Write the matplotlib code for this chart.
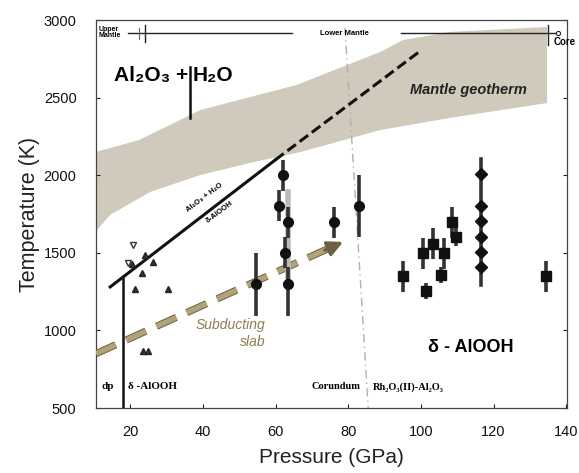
import matplotlib
matplotlib.use("Agg")
import matplotlib.pyplot as plt
import numpy as np

plt.rcParams['font.family'] = ['Liberation Sans', 'DejaVu Sans']

# ---------------- data ----------------
# Mantle geotherm band
geo_upper_P = [10.6, 22.5, 39.3, 65.7, 88.8, 95.1, 108.0, 134.7]
geo_upper_T = [2150, 2227, 2420, 2581, 2794, 2871, 2923, 2955]
geo_lower_P = [10.6, 14.5, 25.5, 39.3, 53.0, 66.8, 88.8, 108.0, 134.7]
geo_lower_T = [1640, 1744, 1892, 2001, 2079, 2149, 2291, 2369, 2465]

# Al2O3 + H2O = delta-AlOOH boundary
bound_solid_P = [14.5, 59.9]
bound_solid_T = [1280, 2098]
bound_dash_P = [59.9, 99.8]
bound_dash_T = [2098, 2800]

# subducting slab
slab_P = [10.6, 78.6]
slab_T = [850, 1570]

# low-pressure triangle points
tri_P = [23.3, 24.1, 26.3, 21.4, 30.5, 23.6, 25.0, 20.6]
tri_T = [1370, 1486, 1440, 1267, 1267, 867, 867, 1430]
open_tri_P = [20.8, 19.4]
open_tri_T = [1550, 1434]

# circles with error bars (mid pressure)
circ_P = [54.7, 61.0, 62.0, 63.5, 62.5, 63.5, 76.0, 83.0]
circ_T = [1300, 1802, 2000, 1698, 1500, 1300, 1698, 1802]
circ_lo = [207, 100, 100, 100, 100, 207, 100, 200]
circ_hi = [200, 100, 100, 100, 100, 108, 100, 200]

# squares with error bars (high pressure)
sq_P = [95.1, 100.6, 101.4, 103.4, 106.4, 105.6, 108.6, 109.7, 134.4]
sq_T = [1350, 1498, 1254, 1557, 1498, 1357, 1698, 1602, 1350]
sq_err = [100, 100, 50, 100, 100, 50, 100, 60, 100]

# column of diamonds at ~117 GPa
col_P = [116.6, 116.6, 116.6, 116.6, 116.6, 116.6]
col_T = [2008, 1802, 1705, 1602, 1505, 1408]
col_bar_T = [1292, 2104]

# phase transition lines
dp_P = 18.1
dp_T = [500, 1338]
cor_P = [79.1, 85.5]
cor_T = [2950, 500]
bar36_P = 36.5
bar36_T = [2370, 2700]

xticks = [20, 40, 60, 80, 100, 120, 140]
yticks = [500, 1000, 1500, 2000, 2500, 3000]

# ---------------- figure ----------------
fig = plt.figure(figsize=(5.79, 4.73), dpi=100)
ax = fig.add_axes([96/579, 65/473, 471/579, 388/473])
ax.set_xlim(10.6, 140.2)
ax.set_ylim(500, 3000)

# geotherm band
poly_P = list(geo_upper_P) + list(geo_lower_P[::-1])
poly_T = list(geo_upper_T) + list(geo_lower_T[::-1])
ax.fill(poly_P, poly_T, color='#d0cabd', lw=0, zorder=1)

# boundary line
ax.plot(bound_solid_P, bound_solid_T, color='#111111', lw=2.2, zorder=4)
ax.plot(bound_dash_P, bound_dash_T, color='#111111', lw=2.2, ls=(0, (3.5, 1.5)), zorder=4)

# corundum transition (dash-dot gray)
ax.plot(cor_P, cor_T, color='#b0b0b0', lw=1.0, ls=(0, (6, 3, 1, 3)), zorder=2)

# dp boundary
ax.plot([dp_P, dp_P], dp_T, color='#111111', lw=1.8, zorder=4)
ax.plot([bar36_P, bar36_P], bar36_T, color='#111111', lw=1.8, zorder=4)

# subducting slab arrow
slab_col = '#b0a378'
ax.plot([slab_P[0], slab_P[1] - 4], [slab_T[0], slab_T[1] - 42], color='#6b6142', lw=5.2,
        ls=(0, (3.0, 1.6)), zorder=3, dash_capstyle='butt')
ax.plot([slab_P[0], slab_P[1] - 4], [slab_T[0], slab_T[1] - 42], color=slab_col, lw=3.8,
        ls=(0, (4.1, 2.2)), zorder=3, dash_capstyle='butt')
ax.annotate('', xy=(slab_P[1], slab_T[1]), xytext=(slab_P[1] - 5, slab_T[1] - 53),
            arrowprops=dict(arrowstyle='-|>,head_length=0.9,head_width=0.45',
                            color='#6b6142', lw=2.5, shrinkA=0, shrinkB=0), zorder=5)

# triangles
ax.plot(tri_P, tri_T, ls='none', marker='^', ms=5, mfc='#333333', mec='#222222', zorder=5)
ax.plot(open_tri_P, open_tri_T, ls='none', marker='v', ms=5, mfc='white', mec='#333333', mew=1, zorder=5)

# light grey error bar near 63 GPa
ax.plot([63.5, 63.5], [1305, 1890], color='#bbbbbb', lw=4, zorder=3)

# circles
ax.errorbar(circ_P, circ_T, yerr=[circ_lo, circ_hi], fmt='o', ms=7, mfc='#111111', mec='#111111',
            ecolor='#333333', elinewidth=2.6, capsize=0, zorder=6)

# squares
ax.errorbar(sq_P, sq_T, yerr=sq_err, fmt='s', ms=7, mfc='#111111', mec='#111111',
            ecolor='#333333', elinewidth=2.6, capsize=0, zorder=6)

# diamond column
ax.plot([col_P[0], col_P[0]], col_bar_T, color='#333333', lw=2.6, zorder=5)
ax.plot(col_P, col_T, ls='none', marker='D', ms=6.5, mfc='#111111', mec='#111111', zorder=6)

# ---------------- texts ----------------
ax.text(15.6, 2645, 'Al₂O₃ +', fontsize=15, fontweight='bold', ha='left', va='center', zorder=7)
ax.text(37.3, 2645, 'H₂O', fontsize=15, fontweight='bold', ha='left', va='center', zorder=7)
ax.text(113, 2549, 'Mantle geotherm', fontsize=10.5, fontweight='bold', style='italic',
        ha='center', va='center', color='#222222', zorder=7)
ax.text(113.8, 893, 'δ - AlOOH', fontsize=13, fontweight='bold', ha='center', va='center', zorder=7)
ax.text(47.5, 1035, 'Subducting', fontsize=10, style='italic', color='#8a7d50', ha='center', va='center', zorder=7)
ax.text(53.8, 925, 'slab', fontsize=10, style='italic', color='#8a7d50', ha='center', va='center', zorder=7)

ang = 37
ax.text(40.5, 1855, 'Al₂O₃ + H₂O', fontsize=5.5, rotation=ang, rotation_mode='anchor',
        ha='center', va='center', fontweight='bold', zorder=7)
ax.text(44.5, 1765, 'δ-AlOOH', fontsize=5.5, rotation=ang, rotation_mode='anchor',
        ha='center', va='center', fontweight='bold', zorder=7)

serif = ['Liberation Serif', 'DejaVu Serif']
ax.text(12.2, 636, 'dp', fontsize=8, fontweight='bold', family=serif, ha='left', va='center', zorder=7)
ax.text(19.5, 636, 'δ -AlOOH', fontsize=8, fontweight='bold', family=serif, ha='left', va='center', zorder=7)
ax.text(70.0, 636, 'Corundum', fontsize=7.5, fontweight='bold', family=serif, ha='left', va='center', zorder=7)
ax.text(86.8, 636, 'Rh₂O₃(II)-Al₂O₃', fontsize=7.5, fontweight='bold', family=serif, ha='left', va='center', zorder=7)

# top mantle labels
ax.text(11.2, 2918, 'Upper\nMantle', fontsize=5, fontweight='bold', ha='left', va='center',
        linespacing=0.9, zorder=7)
ax.plot([19.5, 64.5], [2916, 2916], color='#222222', lw=1.0, zorder=6)
ax.plot([24.0, 24.0], [2860, 2970], color='#222222', lw=1.0, zorder=6)
ax.plot([22.5, 22.5], [2880, 2950], color='#666666', lw=0.8, zorder=6)
ax.text(79.0, 2916, 'Lower Mantle', fontsize=5.5, fontweight='bold', ha='center', va='center', zorder=7)
ax.plot([94.6, 137.5], [2916, 2916], color='#222222', lw=1.0, zorder=6)
ax.plot([135.0, 135.0], [2840, 2970], color='#222222', lw=1.0, zorder=6)
ax.plot([137.7], [2916], marker='o', ms=3, mfc='white', mec='#222222', mew=0.8, zorder=6)
ax.text(136.4, 2860, 'Core', fontsize=7, fontweight='bold', ha='left', va='center', zorder=7,
        clip_on=False)

# ---------------- axes styling ----------------
ax.set_xticks(xticks)
ax.set_yticks(yticks)
ax.set_xticklabels([str(v) for v in xticks])
ax.set_yticklabels([str(v) for v in yticks])
ax.tick_params(axis='both', direction='in', length=3, width=0.8, labelsize=10.5,
               top=False, right=True, colors='#222222', labelcolor='#111111')
ax.tick_params(axis='y', pad=14)
ax.tick_params(axis='x', pad=12)
for s in ax.spines.values():
    s.set_color('#444444')
    s.set_linewidth(0.9)

ax.set_xlabel('Pressure (GPa)', fontsize=15, color='#222222', labelpad=7)
ax.set_ylabel('Temperature (K)', fontsize=15.5, color='#222222', labelpad=3)

fig.savefig('out.png', dpi=100)
